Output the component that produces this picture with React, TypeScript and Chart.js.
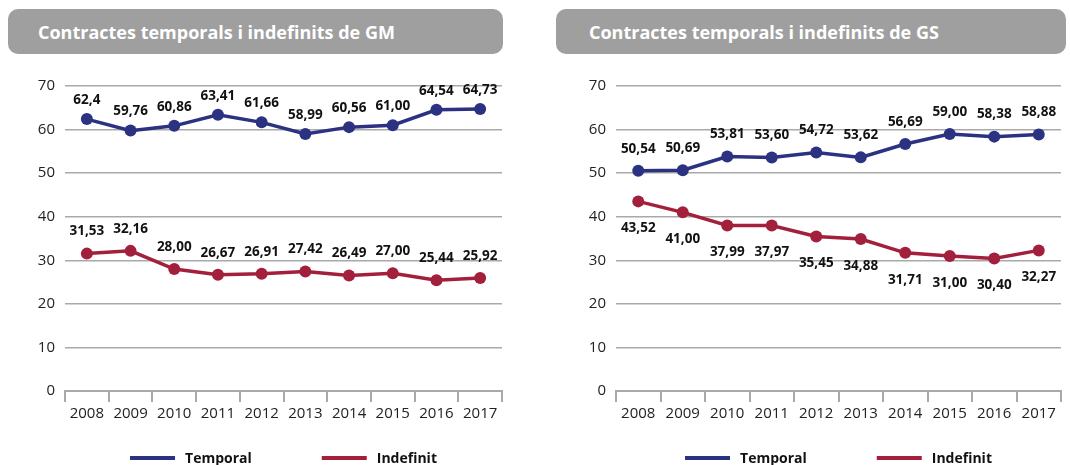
import React, { useEffect, useRef } from "react";
import { Chart, registerables } from "chart.js";

Chart.register(...registerables);

const years = ["2008", "2009", "2010", "2011", "2012", "2013", "2014", "2015", "2016", "2017"];
const yTicks = [0, 10, 20, 30, 40, 50, 60, 70];
const seriesNames = ["Temporal", "Indefinit"];

const gmTemporal = [62.4, 59.76, 60.86, 63.41, 61.66, 58.99, 60.56, 61.0, 64.54, 64.73];
const gmTemporalLabels = ["62,4", "59,76", "60,86", "63,41", "61,66", "58,99", "60,56", "61,00", "64,54", "64,73"];
const gmIndefinit = [31.53, 32.16, 28.0, 26.67, 26.91, 27.42, 26.49, 27.0, 25.44, 25.92];
const gmIndefinitLabels = ["31,53", "32,16", "28,00", "26,67", "26,91", "27,42", "26,49", "27,00", "25,44", "25,92"];

const gsTemporal = [50.54, 50.69, 53.81, 53.6, 54.72, 53.62, 56.69, 59.0, 58.38, 58.88];
const gsTemporalLabels = ["50,54", "50,69", "53,81", "53,60", "54,72", "53,62", "56,69", "59,00", "58,38", "58,88"];
const gsIndefinit = [43.52, 41.0, 37.99, 37.97, 35.45, 34.88, 31.71, 31.0, 30.4, 32.27];
const gsIndefinitLabels = ["43,52", "41,00", "37,99", "37,97", "35,45", "34,88", "31,71", "31,00", "30,40", "32,27"];

const BLUE = "#2b3282";
const RED = "#a3203d";
const GRID = "#a9a9a9";
const FONT = "'Open Sans', 'Noto Sans', sans-serif";

const valueLabelPlugin = {
  id: "valueLabels",
  afterDatasetsDraw(chart: any) {
    const ctx = chart.ctx;
    ctx.save();
    ctx.font = `bold 13.5px ${FONT}`;
    ctx.fillStyle = "#111";
    ctx.textAlign = "center";
    ctx.textBaseline = "middle";
    chart.data.datasets.forEach((ds: any, di: number) => {
      const meta = chart.getDatasetMeta(di);
      meta.data.forEach((pt: any, i: number) => {
        ctx.fillText(ds.valueLabels[i], pt.x, pt.y + ds.labelOffset);
      });
    });
    ctx.restore();
  },
};

const customLegendPlugin = {
  id: "customLegend",
  afterDraw(chart: any) {
    const ctx = chart.ctx;
    const area = chart.chartArea;
    ctx.save();
    ctx.font = `bold 14px ${FONT}`;
    const lineW = 45;
    const gapText = 10;
    const gapItem = 70;
    const items = chart.data.datasets.map((ds: any) => ({
      text: ds.label,
      color: ds.borderColor,
      w: lineW + gapText + ctx.measureText(ds.label).width,
    }));
    const total = items.reduce((s: number, it: any) => s + it.w, 0) + gapItem * (items.length - 1);
    let x = (area.left + area.right) / 2 - total / 2;
    const y = area.bottom + 67;
    items.forEach((it: any) => {
      ctx.fillStyle = it.color;
      ctx.fillRect(x, y - 2, lineW, 4);
      ctx.fillStyle = "#111";
      ctx.textAlign = "left";
      ctx.textBaseline = "middle";
      ctx.fillText(it.text, x + lineW + gapText, y + 1);
      x += it.w + gapItem;
    });
    ctx.restore();
  },
};

type PanelProps = {
  title: string;
  left: number;
  headerWidth: number;
  titlePad: number;
  canvasWidth: number;
  yAxisWidth: number;
  padRight: number;
  temporal: number[];
  temporalLabels: string[];
  indefinit: number[];
  indefinitLabels: string[];
  tOffset: number;
  iOffset: number;
};

function Panel(p: PanelProps) {
  const ref = useRef<HTMLCanvasElement>(null);
  useEffect(() => {
    if (!ref.current) return;
    const mk = (label: string, data: number[], labels: string[], color: string, off: number) => ({
      label,
      data,
      valueLabels: labels,
      labelOffset: off,
      borderColor: color,
      backgroundColor: color,
      pointBackgroundColor: color,
      pointBorderWidth: 0,
      pointRadius: 6,
      borderWidth: 3.5,
      tension: 0,
    });
    const chart = new Chart(ref.current, {
      type: "line",
      data: {
        labels: years,
        datasets: [
          mk(seriesNames[0], p.temporal, p.temporalLabels, BLUE, p.tOffset),
          mk(seriesNames[1], p.indefinit, p.indefinitLabels, RED, p.iOffset),
        ] as any,
      },
      options: {
        animation: false,
        responsive: false,
        maintainAspectRatio: false,
        layout: { padding: { top: 26, right: p.padRight, bottom: 34, left: 0 } },
        plugins: { legend: { display: false }, tooltip: { enabled: false } },
        scales: {
          x: {
            offset: true,
            grid: {
              offset: true,
              drawOnChartArea: false,
              drawTicks: true,
              tickLength: 11,
              color: GRID,
              lineWidth: 2,
            },
            border: { display: true, color: GRID, width: 2 },
            ticks: { color: "#222", font: { family: FONT, size: 15 }, padding: 3, maxRotation: 0 },
            afterFit: (s: any) => {
              s.height = 40;
            },
          },
          y: {
            min: 0,
            max: 70,
            afterBuildTicks: (s: any) => {
              s.ticks = yTicks.map((v) => ({ value: v }));
            },
            grid: { color: GRID, lineWidth: 1.5, drawTicks: false },
            border: { display: false },
            ticks: { color: "#222", font: { family: FONT, size: 15 }, padding: 10 },
            afterFit: (s: any) => {
              s.width = p.yAxisWidth;
            },
          },
        },
      },
      plugins: [valueLabelPlugin, customLegendPlugin],
    });
    return () => chart.destroy();
  }, []);

  return (
    <>
      <div
        style={{
          position: "absolute",
          left: p.left,
          top: 9,
          width: p.headerWidth,
          height: 45,
          background: "#9f9f9f",
          borderRadius: 10,
          color: "#fff",
          fontFamily: FONT,
          fontWeight: 700,
          fontSize: 18,
          display: "flex",
          alignItems: "center",
          paddingLeft: p.titlePad,
          boxSizing: "border-box",
        }}
      >
        {p.title}
      </div>
      <canvas
        ref={ref}
        width={p.canvasWidth}
        height={405}
        style={{ position: "absolute", left: p.left, top: 60, width: p.canvasWidth, height: 405 }}
      />
    </>
  );
}

export default function App() {
  return (
    <div style={{ position: "fixed", left: 0, top: 0, width: 1070, height: 465, overflow: "hidden", background: "#fff" }}>
      <Panel
        title="Contractes temporals i indefinits de GM"
        left={8}
        headerWidth={495}
        titlePad={30}
        canvasWidth={500}
        yAxisWidth={57}
        padRight={6}
        temporal={gmTemporal}
        temporalLabels={gmTemporalLabels}
        indefinit={gmIndefinit}
        indefinitLabels={gmIndefinitLabels}
        tOffset={-19}
        iOffset={-22}
      />
      <Panel
        title="Contractes temporals i indefinits de GS"
        left={556}
        headerWidth={510}
        titlePad={33}
        canvasWidth={511}
        yAxisWidth={60}
        padRight={5}
        temporal={gsTemporal}
        temporalLabels={gsTemporalLabels}
        indefinit={gsIndefinit}
        indefinitLabels={gsIndefinitLabels}
        tOffset={-22}
        iOffset={27}
      />
    </div>
  );
}
